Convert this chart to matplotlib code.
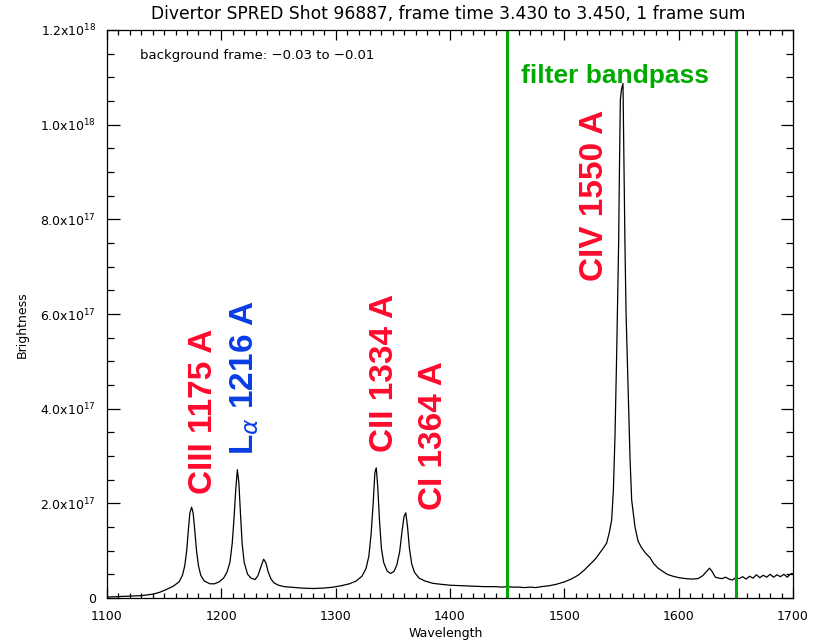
import matplotlib.pyplot as plt
from matplotlib.ticker import MultipleLocator, FuncFormatter

# SPRED divertor spectrum, brightness in units of 1e17
wavelength = [
    1100, 1110, 1120, 1130, 1140, 1146, 1152, 1158, 1163, 1166, 1168, 1169.7,
    1171.2, 1172.5, 1174, 1175.3, 1176.7, 1178.3, 1180, 1182, 1185, 1190,
    1194, 1198, 1202, 1205, 1207.5, 1209.5, 1211, 1212.5, 1214, 1215.3,
    1216.7, 1218.2, 1220, 1223, 1226, 1229.5, 1232, 1234.5, 1237, 1239, 1241,
    1243.5, 1246, 1250, 1255, 1260, 1270, 1280, 1290, 1298, 1305, 1312, 1318,
    1323, 1326.5, 1329, 1331, 1332.8, 1334.3, 1335.5, 1336.8, 1338.3, 1340,
    1342, 1345, 1348, 1351, 1353.5, 1356, 1358, 1359.8, 1361.3, 1362.8,
    1364.5, 1366.5, 1369, 1373, 1378, 1385, 1392, 1400, 1410, 1420, 1430,
    1440, 1445, 1450, 1455, 1460, 1465, 1470, 1475, 1480, 1487, 1493, 1500,
    1506, 1512, 1517, 1522, 1527, 1531, 1534, 1537, 1539.5, 1541.4, 1542.9,
    1544.3, 1545.8, 1546.6, 1547.5, 1548.2, 1549, 1550, 1551.3, 1552.2, 1553,
    1554, 1556, 1557.5, 1558.9, 1561.8, 1564.5, 1567.6, 1571, 1575, 1578,
    1582, 1585, 1590, 1595, 1600, 1606, 1612, 1617, 1621, 1624, 1627, 1629.5,
    1632, 1635, 1638, 1641, 1644, 1647, 1650, 1653, 1656, 1659, 1662, 1665,
    1668, 1671, 1674, 1677, 1680, 1683, 1686, 1689, 1692, 1695, 1697, 1699,
    1700,
]
brightness = [
    0.02, 0.03, 0.04, 0.05, 0.08, 0.12, 0.18, 0.25, 0.34, 0.48, 0.68, 1.00,
    1.45, 1.80, 1.92, 1.80, 1.45, 1.00, 0.68, 0.48, 0.36, 0.30,
    0.30, 0.34, 0.42, 0.55, 0.75, 1.15, 1.65, 2.25, 2.71, 2.45,
    1.80, 1.15, 0.75, 0.50, 0.42, 0.39, 0.47, 0.65, 0.82, 0.74, 0.55,
    0.40, 0.32, 0.27, 0.24, 0.23, 0.21, 0.20, 0.21, 0.23, 0.26, 0.30, 0.36,
    0.46, 0.62, 0.88, 1.35, 2.00, 2.65, 2.75, 2.35, 1.65, 1.05,
    0.75, 0.57, 0.52, 0.56, 0.70, 0.98, 1.40, 1.72, 1.80, 1.52,
    1.05, 0.72, 0.54, 0.42, 0.36, 0.31, 0.29, 0.27, 0.26, 0.25, 0.24,
    0.24, 0.23, 0.24, 0.23, 0.23, 0.22, 0.23, 0.22, 0.24, 0.26, 0.29, 0.34,
    0.40, 0.48, 0.58, 0.70, 0.82, 0.95, 1.05, 1.16, 1.40, 1.65, 2.28,
    3.41, 5.18, 6.30, 7.50, 9.05, 10.53, 10.75, 10.87, 9.00, 7.50,
    6.00, 4.25, 2.92, 2.07, 1.50, 1.20, 1.06, 0.95, 0.85, 0.73,
    0.63, 0.58, 0.50, 0.46, 0.43, 0.41, 0.40, 0.41, 0.47, 0.55, 0.63, 0.55,
    0.44, 0.42, 0.41, 0.44, 0.40, 0.38, 0.43, 0.41, 0.45, 0.40, 0.46, 0.42,
    0.49, 0.43, 0.48, 0.44, 0.50, 0.44, 0.49, 0.45, 0.50, 0.44, 0.49, 0.52,
    0.50,
]
scale = 1e17

filter_edges = [1450, 1650]

# line labels: (text, wavelength position, bottom of text in 1e17, colour)
line_labels = [
    ('CIII 1175 A', 1184, 2.2, '#ff0a2d'),
    (r'L$_{\alpha}$ 1216 A', 1220.7, 3.02, '#0a3ce6'),
    ('CII 1334 A', 1342.3, 3.09, '#ff0a2d'),
    ('CI 1364 A', 1385.6, 1.86, '#ff0a2d'),
    ('CIV 1550 A', 1526.4, 6.69, '#ff0a2d'),
]

W, H = 814, 642
fig = plt.figure(figsize=(W / 100, H / 100), dpi=100)
ax = fig.add_axes([107 / W, 44 / H, 686 / W, 568 / H])

ax.plot(wavelength, [b * scale for b in brightness], color='black', lw=0.9)
for xe in filter_edges:
    ax.axvline(xe, color='#00aa00', lw=2.2)

ax.set_xlim(1100, 1700)
ax.set_ylim(0, 1.2e18)

ax.xaxis.set_major_locator(MultipleLocator(100))
ax.xaxis.set_minor_locator(MultipleLocator(10))
ax.yaxis.set_major_locator(MultipleLocator(2e17))
ax.yaxis.set_minor_locator(MultipleLocator(5e16))


def ylab(v, pos):
    if v == 0:
        return '0'
    exp = 17 if v < 9.9e17 else 18
    return '%.1fx10$^{%d}$' % (v / 10 ** exp, exp)


ax.yaxis.set_major_formatter(FuncFormatter(ylab))
ax.tick_params(which='both', direction='in', top=True, right=True,
               width=0.9, labelsize=9)
ax.tick_params(axis='x', which='major', length=7, pad=9)
ax.tick_params(axis='x', which='minor', length=3.6)
ax.tick_params(axis='y', which='major', length=9, pad=8)
ax.tick_params(axis='y', which='minor', length=5)
for s in ax.spines.values():
    s.set_linewidth(0.9)

for text, xw, yb, col in line_labels:
    ax.text(xw, yb * scale, text, rotation=90, ha='center', va='bottom',
            color=col, fontsize=24, fontweight='bold',
            family='Liberation Sans')

ax.text(1544.3, 1.103e18, 'filter bandpass', ha='center', va='center',
        color='#00aa00', fontsize=19, fontweight='bold',
        family='Liberation Sans')

fig.text(140 / W, 1 - 55.7 / H, 'background frame: \u22120.03 to \u22120.01',
         ha='left', va='center', fontsize=9.5)

fig.text(448 / W, 1 - 14 / H,
         'Divertor SPRED Shot 96887, frame time 3.430 to 3.450, 1 frame sum',
         ha='center', va='center', fontsize=12.3)
fig.text(446 / W, 1 - 633 / H, 'Wavelength', ha='center', va='center',
         fontsize=9)
fig.text(22 / W, 1 - 325 / H, 'Brightness', ha='center', va='center',
         rotation=90, fontsize=9)

fig.savefig('out.png', dpi=100)
